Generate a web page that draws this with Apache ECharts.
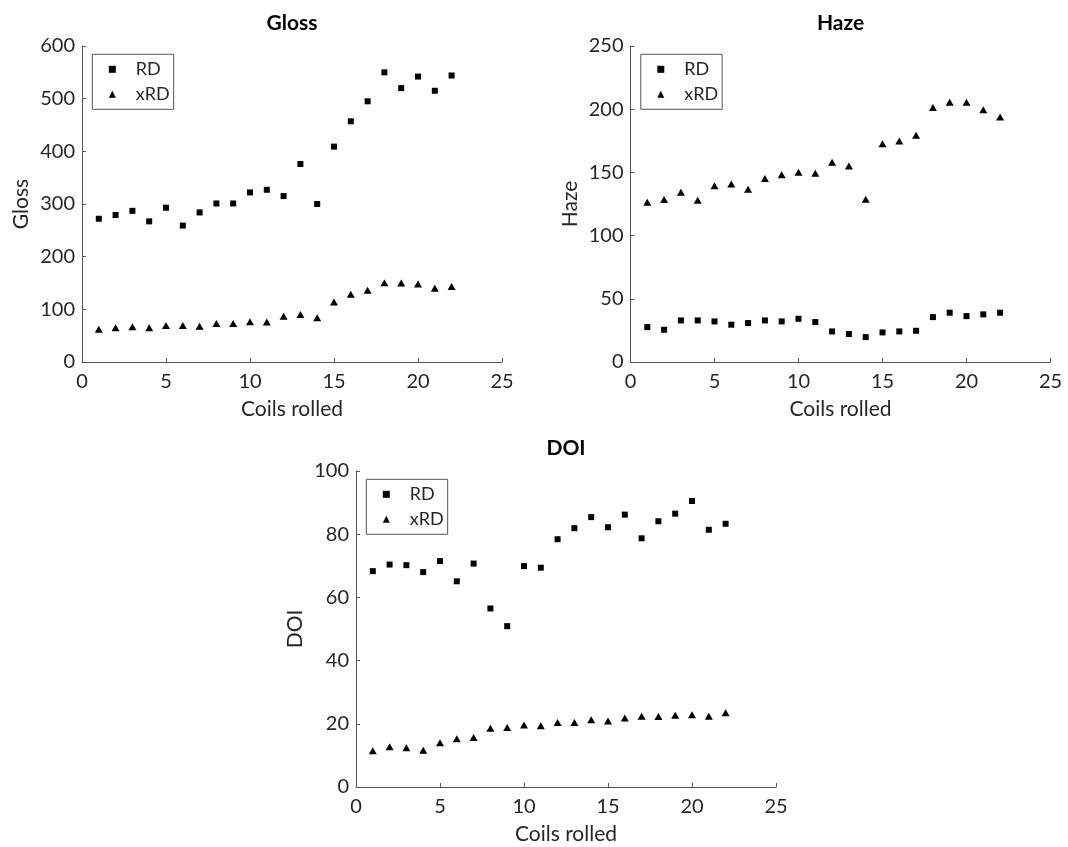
<!DOCTYPE html>
<html>
<head>
<meta charset="utf-8">
<script src="https://cdn.jsdelivr.net/npm/echarts@6/dist/echarts.min.js"></script>
<style>
  html, body { margin: 0; padding: 0; background: #ffffff; }
  #chart { width: 1068px; height: 847px; }
</style>
</head>
<body>
<div id="chart"></div>
<script>
// ---- data ----
const coils = [1,2,3,4,5,6,7,8,9,10,11,12,13,14,15,16,17,18,19,20,21,22];

const glossRD  = [272,279,287,267,293,259,284,301,301,322,327,315,376,300,409,457,495,550,520,542,515,544];
const glossXRD = [62,65,67,65,69.5,69.5,68,73,73,76.5,76,87,90,84,114,128.5,136,150.5,150,148,140,143.5];

const hazeRD  = [27.6,25.5,32.9,32.9,32.1,29.5,30.8,32.9,32.1,34.2,31.6,24.2,22.1,19.7,23.4,24.2,24.7,35.5,39,36.3,37.7,39];
const hazeXRD = [126.4,128.5,134.3,128,139.5,140.9,136.7,145.1,148.2,150.1,149.3,158,155.1,128.8,172.7,174.8,179.3,201.4,205.4,205.4,199.6,193.8];

const doiRD  = [68.3,70.4,70.2,68,71.5,65.1,70.7,56.5,50.9,69.9,69.4,78.4,81.9,85.4,82.2,86.2,78.7,84.1,86.5,90.5,81.4,83.3];
const doiXRD = [11.5,12.7,12.4,11.6,14,15.3,15.7,18.6,18.8,19.6,19.4,20.4,20.4,21.3,20.9,21.8,22.4,22.3,22.7,22.9,22.4,23.5];

const panelTitles = ['Gloss', 'Haze', 'DOI'];
const xAxisName = 'Coils rolled';
const seriesNames = ['RD', 'xRD'];
const yMax = [600, 250, 100];
const yInterval = [100, 50, 20];

// ---- layout / style ----
const FONT = 'Lato, "Open Sans", sans-serif';
const TXT = '#262626';
const AX = '#555555';
const grids = [
  { left: 82,    top: 46,  width: 420, height: 316 },
  { left: 630.5, top: 46,  width: 420, height: 316 },
  { left: 356,   top: 471, width: 420, height: 316 }
];
const titleTop = [13, 13, 438];

const pairs = (ys) => coils.map((c, i) => [c, ys[i]]);
const panelData = [
  [glossRD, glossXRD],
  [hazeRD, hazeXRD],
  [doiRD, doiXRD]
];

const option = {
  backgroundColor: '#ffffff',
  animation: false,
  textStyle: { fontFamily: FONT, color: TXT },
  title: panelTitles.map((t, i) => ({
    text: t,
    left: grids[i].left + grids[i].width / 2,
    top: titleTop[i],
    textAlign: 'center',
    padding: 0,
    textStyle: { fontFamily: FONT, fontSize: 21, fontWeight: 'bold', color: '#000000' }
  })),
  legend: grids.map((g) => ({
    orient: 'vertical',
    left: g.left + 10.3,
    top: g.top + 8.3,
    padding: [6, 4, 6, 16.5],
    itemGap: 7,
    itemWidth: 7,
    itemHeight: 7,
    borderColor: AX,
    borderWidth: 1,
    borderRadius: 0,
    backgroundColor: '#ffffff',
    selectedMode: false,
    data: [
      { name: 'RD', icon: 'rect', itemStyle: { color: '#000000', opacity: 1 } },
      { name: 'xRD', icon: 'triangle', itemStyle: { color: '#000000', opacity: 1 } }
    ],
    textStyle: { fontFamily: FONT, fontSize: 18, color: TXT, lineHeight: 18, padding: [0, 0, 0, 15] }
  })),
  grid: grids.map((g) => Object.assign({ outerBoundsMode: 'none', containLabel: false }, g)),
  xAxis: grids.map((g, i) => ({
    type: 'value',
    gridIndex: i,
    min: 0, max: 25, interval: 5,
    name: xAxisName,
    nameLocation: 'middle',
    nameGap: 37,
    nameTextStyle: { fontFamily: FONT, fontSize: 21, color: TXT },
    axisLine: { show: true, onZero: false, lineStyle: { color: AX, width: 1 } },
    axisTick: { show: true, inside: true, length: 4, lineStyle: { color: AX } },
    axisLabel: { show: true, margin: 10, fontFamily: FONT, fontSize: 20, color: TXT },
    splitLine: { show: false }
  })),
  yAxis: grids.map((g, i) => ({
    type: 'value',
    gridIndex: i,
    min: 0, max: yMax[i], interval: yInterval[i],
    name: panelTitles[i],
    nameLocation: 'middle',
    nameGap: 50,
    nameRotate: 90,
    nameTextStyle: { fontFamily: FONT, fontSize: 21, color: TXT },
    axisLine: { show: true, onZero: false, lineStyle: { color: AX, width: 1 } },
    axisTick: { show: true, inside: true, length: 4, lineStyle: { color: AX } },
    axisLabel: { show: true, margin: 7, fontFamily: FONT, fontSize: 20, color: TXT },
    splitLine: { show: false }
  })),
  series: []
};

panelData.forEach((pd, i) => {
  option.series.push({
    name: seriesNames[0], type: 'scatter', xAxisIndex: i, yAxisIndex: i,
    symbol: 'rect', symbolSize: 6,
    itemStyle: { color: '#000000', opacity: 1 },
    data: pairs(pd[0])
  });
  option.series.push({
    name: seriesNames[1], type: 'scatter', xAxisIndex: i, yAxisIndex: i,
    symbol: 'triangle', symbolSize: [8, 7],
    itemStyle: { color: '#000000', opacity: 1 },
    data: pairs(pd[1])
  });
});

const chart = echarts.init(document.getElementById('chart'), null, { renderer: 'canvas' });
chart.setOption(option);
</script>
</body>
</html>
